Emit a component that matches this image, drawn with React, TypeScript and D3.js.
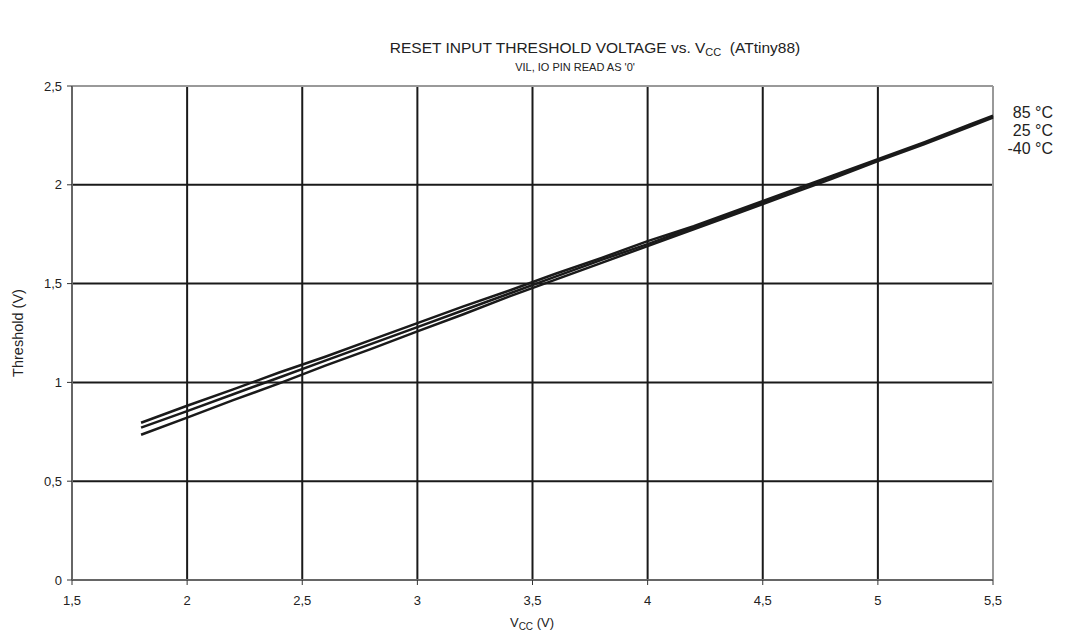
import React from "react";
import * as d3 from "d3";

const vcc = [1.8, 2.0, 2.2, 2.4, 2.6, 2.8, 3.0, 3.2, 3.4, 3.6, 3.8, 4.0, 4.2, 4.4, 4.6, 4.8, 5.0, 5.2, 5.4, 5.5];
const t85 = [0.796, 0.882, 0.965, 1.05, 1.13, 1.215, 1.3, 1.385, 1.465, 1.55, 1.63, 1.715, 1.79, 1.875, 1.96, 2.045, 2.13, 2.215, 2.305, 2.35];
const t25 = [0.771, 0.855, 0.94, 1.025, 1.11, 1.195, 1.28, 1.365, 1.45, 1.535, 1.62, 1.70, 1.785, 1.87, 1.955, 2.04, 2.125, 2.21, 2.3, 2.345];
const tm40 = [0.735, 0.822, 0.91, 0.995, 1.085, 1.17, 1.258, 1.345, 1.435, 1.52, 1.605, 1.69, 1.775, 1.86, 1.945, 2.03, 2.12, 2.205, 2.295, 2.34];
const seriesLabels = ["85 °C", "25 °C", "-40 °C"];
const xTicks = [1.5, 2, 2.5, 3, 3.5, 4, 4.5, 5, 5.5];
const yTicks = [0, 0.5, 1, 1.5, 2, 2.5];

const W = 1069, H = 635;
const L = 72, R = 993, T = 86, B = 580;

const fmt = (v: number) => String(v).replace(".", ",");

export default function App() {
  const x = d3.scaleLinear().domain([1.5, 5.5]).range([L, R]);
  const y = d3.scaleLinear().domain([0, 2.5]).range([B, T]);
  const line = d3.line<number>().x((_, i) => x(vcc[i])).y((d) => y(d));
  const series = [t85, t25, tm40];
  const font = "Liberation Sans, Arial, sans-serif";
  return (
    <svg width={W} height={H} style={{ position: "absolute", left: 0, top: 0, fontFamily: font }}>
      <rect width={W} height={H} fill="#fff" />
      <text x={595} y={53} textAnchor="middle" fontSize={15.5} fill="#222">
        RESET INPUT THRESHOLD VOLTAGE vs. V<tspan fontSize={11} dy={3}>CC</tspan><tspan dy={-3}>{"\u00a0\u00a0(ATtiny88)"}</tspan>
      </text>
      <text x={575} y={71} textAnchor="middle" fontSize={11} fill="#222">VIL, IO PIN READ AS '0'</text>
      {xTicks.slice(1, -1).map((t) => (
        <line key={"gx" + t} x1={x(t)} x2={x(t)} y1={T} y2={B} stroke="#1a1a1a" strokeWidth={2} />
      ))}
      {yTicks.slice(1, -1).map((t) => (
        <line key={"gy" + t} x1={L} x2={R} y1={y(t)} y2={y(t)} stroke="#1a1a1a" strokeWidth={2} />
      ))}
      <line x1={L} x2={R} y1={T} y2={T} stroke="#999" strokeWidth={2} />
      <line x1={R} x2={R} y1={T} y2={B} stroke="#999" strokeWidth={2} />
      <line x1={L} x2={R} y1={B} y2={B} stroke="#666" strokeWidth={2} />
      <line x1={L} x2={L} y1={T} y2={B} stroke="#666" strokeWidth={2} />
      {xTicks.map((t) => (
        <g key={"xt" + t}>
          <line x1={x(t)} x2={x(t)} y1={B} y2={B + 5} stroke="#333" strokeWidth={1} />
          <text x={x(t)} y={B + 25} textAnchor="middle" fontSize={13} fill="#222">{fmt(t)}</text>
        </g>
      ))}
      {yTicks.map((t) => (
        <g key={"yt" + t}>
          <line x1={L - 5} x2={L} y1={y(t)} y2={y(t)} stroke="#333" strokeWidth={1} />
          <text x={L - 10} y={y(t) + 4.5} textAnchor="end" fontSize={13} fill="#222">{fmt(t)}</text>
        </g>
      ))}
      {series.map((s, i) => (
        <path key={"s" + i} d={line(s) || ""} fill="none" stroke="#1a1a1a" strokeWidth={2.5} />
      ))}
      {seriesLabels.map((lab, i) => (
        <text key={lab} x={1053} y={118 + i * 18} textAnchor="end" fontSize={16} fill="#222">{lab}</text>
      ))}
      <text transform={`translate(23,${(T + B) / 2}) rotate(-90)`} textAnchor="middle" fontSize={14.5} fill="#222">Threshold (V)</text>
      <text x={532} y={627} textAnchor="middle" fontSize={13} fill="#222">
        V<tspan fontSize={10} dy={3}>CC</tspan><tspan dy={-3}> (V)</tspan>
      </text>
    </svg>
  );
}
